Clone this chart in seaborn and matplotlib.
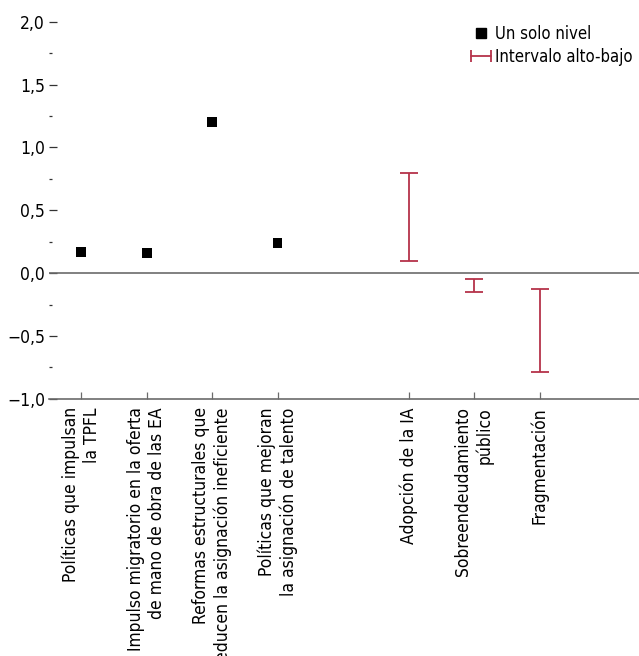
"""Point and high-low range chart: policy impacts vs. risk factors."""
import matplotlib
matplotlib.use("Agg")
import matplotlib.pyplot as plt
from matplotlib.lines import Line2D
from matplotlib.legend_handler import HandlerLine2D
from matplotlib.ticker import FuncFormatter, MultipleLocator
import pandas as pd
import seaborn as sns

# single-level estimates
policy_labels = [
    "Políticas que impulsan\nla TPFL",
    "Impulso migratorio en la oferta\nde mano de obra de las EA",
    "Reformas estructurales que\nreducen la asignación ineficiente",
    "Políticas que mejoran\nla asignación de talento",
]
policy_values = [0.17, 0.16, 1.20, 0.24]

# high-low intervals
risk_labels = ["Adopción de la IA", "Sobreendeudamiento\npúblico", "Fragmentación"]
risk_high = [0.80, -0.05, -0.13]
risk_low = [0.10, -0.15, -0.79]

SQUARE_COLOR = "black"
RANGE_COLOR = "#b5334a"
AXIS_COLOR = "#6b6b6b"

sns.set_theme(style="white")
plt.rcParams["font.family"] = ["DejaVu Sans"]
plt.rcParams["font.stretch"] = "condensed"
plt.rcParams["font.size"] = 12
plt.rcParams["text.color"] = "black"
plt.rcParams["xtick.color"] = "black"
plt.rcParams["ytick.color"] = "black"
plt.rcParams["xtick.labelcolor"] = "black"
plt.rcParams["ytick.labelcolor"] = "black"

# positions: one empty slot between the two groups
policy_x = list(range(len(policy_labels)))
risk_x = [len(policy_labels) + 1 + i for i in range(len(risk_labels))]

df_points = pd.DataFrame({"x": policy_x, "value": policy_values})
df_ranges = pd.DataFrame({"x": risk_x, "high": risk_high, "low": risk_low})

fig = plt.figure(figsize=(6.39, 6.56), dpi=100)
ax = fig.add_axes([0.077, 0.392, 0.923, 0.575])

sns.scatterplot(
    data=df_points, x="x", y="value", marker="s", s=48,
    color=SQUARE_COLOR, edgecolor="none", ax=ax, zorder=3,
)

mid = (df_ranges["high"] + df_ranges["low"]) / 2
half = (df_ranges["high"] - df_ranges["low"]) / 2
ax.errorbar(
    df_ranges["x"], mid, yerr=half, fmt="none",
    ecolor=RANGE_COLOR, elinewidth=1.3, capsize=6.5, capthick=1.3, zorder=3,
)

ax.axhline(0, color=AXIS_COLOR, lw=1.2, zorder=1)

ax.set_xlim(-0.49, 8.52)
ax.set_ylim(-1.0, 2.0)
ax.set_xlabel("")
ax.set_ylabel("")

for side in ("left", "top", "right"):
    ax.spines[side].set_visible(False)
ax.spines["bottom"].set_color(AXIS_COLOR)
ax.spines["bottom"].set_linewidth(1.2)

ax.yaxis.set_major_locator(MultipleLocator(0.5))
ax.yaxis.set_minor_locator(MultipleLocator(0.25))
ax.yaxis.set_major_formatter(
    FuncFormatter(lambda v, _: f"{v:.1f}".replace(".", ",").replace("-", "\u2212"))
)
ax.tick_params(axis="y", which="major", direction="in", length=6, width=0.9,
               color="#333333", labelsize=12.5, pad=3, left=True)
ax.tick_params(axis="y", which="minor", direction="in", length=2.5, width=0.9,
               color="#333333", left=True)

ax.set_xticks(policy_x + risk_x)
ax.set_xticklabels(policy_labels + risk_labels, rotation=90, ha="center",
                   va="top", multialignment="right", fontsize=12.5)
ax.tick_params(axis="x", direction="in", length=5, width=0.9,
               color=AXIS_COLOR, pad=6, bottom=True)

square_handle = Line2D([], [], marker="s", color=SQUARE_COLOR, linestyle="none",
                       markersize=7)
range_handle = Line2D([], [], color=RANGE_COLOR, lw=1.3, marker="|",
                      markersize=9, markeredgewidth=1.3)
ax.legend(
    [square_handle, range_handle], ["Un solo nivel", "Intervalo alto-bajo"],
    handler_map={range_handle: HandlerLine2D(numpoints=2, marker_pad=0)},
    loc="upper right", bbox_to_anchor=(1.0, 1.01), frameon=False,
    fontsize=12, handlelength=1.2, handletextpad=0.25, labelspacing=0.3,
    borderaxespad=0.0,
)

fig.savefig("out.png", dpi=100)
